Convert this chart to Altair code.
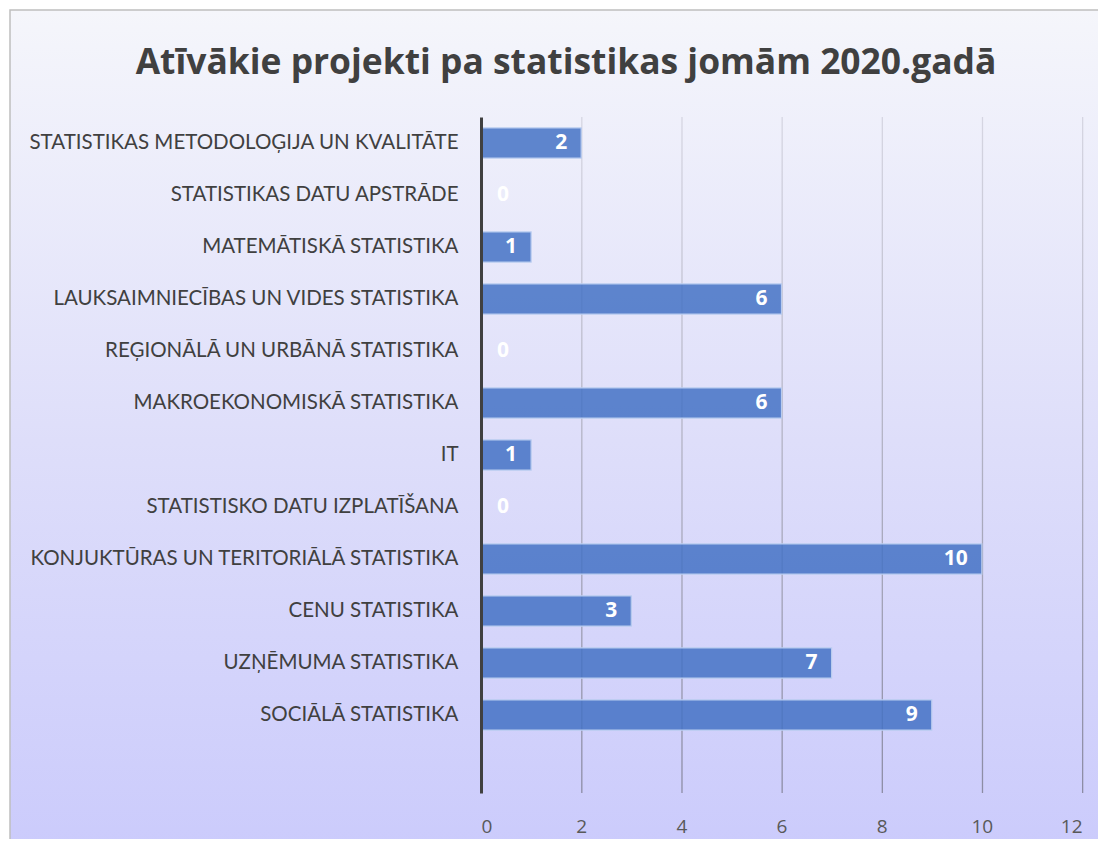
import altair as alt
import pandas as pd

categories = [
    "STATISTIKAS METODOLOĢIJA UN KVALITĀTE",
    "STATISTIKAS DATU APSTRĀDE",
    "MATEMĀTISKĀ STATISTIKA",
    "LAUKSAIMNIECĪBAS UN VIDES STATISTIKA",
    "REĢIONĀLĀ UN URBĀNĀ STATISTIKA",
    "MAKROEKONOMISKĀ STATISTIKA",
    "IT",
    "STATISTISKO DATU IZPLATĪŠANA",
    "KONJUKTŪRAS UN TERITORIĀLĀ STATISTIKA",
    "CENU STATISTIKA",
    "UZŅĒMUMA STATISTIKA",
    "SOCIĀLĀ STATISTIKA",
]
values = [2, 0, 1, 6, 0, 6, 1, 0, 10, 3, 7, 9]
x_ticks = [0, 2, 4, 6, 8, 10, 12]
title_text = "Atīvākie projekti pa statistikas jomām 2020.gadā"

df = pd.DataFrame({"cat": categories, "val": values})
grid_df = pd.DataFrame({"g": x_ticks[1:]})

W, H = 601, 676
FONT = "Open Sans"
LFONT = "Lato"
domain = categories + [" "]

ysc = alt.Scale(domain=domain, paddingInner=0.42, paddingOuter=0.21)
xsc = alt.Scale(domain=[0, 12], nice=False, zero=True)

bg = alt.Chart(pd.DataFrame({"a": [0]})).mark_rect(
    fill=alt.LinearGradient(
        gradient="linear", x1=0, y1=0, x2=0, y2=1,
        stops=[
            alt.GradientStop(offset=0, color="#F5F6FB"),
            alt.GradientStop(offset=0.5, color="#DEDEFA"),
            alt.GradientStop(offset=1, color="#CACAFC"),
        ],
    ),
    stroke="#BFBFBF", strokeWidth=1.5,
).encode(
    x=alt.value(-471), x2=alt.value(W + 60),
    y=alt.value(-107), y2=alt.value(H + 80),
)

title = alt.Chart(pd.DataFrame({"t": [title_text]})).mark_text(
    font=FONT, fontSize=35.4, fontWeight="bold", color="#404040",
    align="center", baseline="middle",
).encode(x=alt.value(85), y=alt.value(-54), text="t:N")

grid = alt.Chart(grid_df).mark_rect(
    x2Offset=1.3,
    fill=alt.LinearGradient(
        gradient="linear", x1=0, y1=0, x2=0, y2=1,
        stops=[
            alt.GradientStop(offset=0, color="#D6D6E2"),
            alt.GradientStop(offset=1, color="#8C8CA4"),
        ],
    ),
).encode(
    x=alt.X("g:Q", scale=xsc),
    x2="g:Q",
    y=alt.value(0), y2=alt.value(H),
)

bars = alt.Chart(df).mark_bar(
    color="#4472C4", fillOpacity=0.85, stroke="#B8CBEF", strokeWidth=1.2,
).encode(
    y=alt.Y("cat:N", scale=ysc, sort=domain,
            axis=alt.Axis(title=None, labelFont=LFONT, labelFontSize=20.5,
                          labelColor="#404040", labelPadding=23, ticks=False,
                          domainColor="#404040", domainWidth=3, grid=False,
                          labelLimit=600, labelExpr="datum.value", zindex=1)),
    x=alt.X("val:Q", scale=xsc,
            axis=alt.Axis(title=None, values=x_ticks, labelFont=FONT,
                          labelFontSize=19, labelColor="#595959", ticks=False,
                          domain=False, grid=False, labelPadding=24, zindex=1)),
)

labels_pos = alt.Chart(df).transform_filter("datum.val > 0").mark_text(
    align="right", baseline="middle", dx=-14, font=FONT, fontSize=21,
    fontWeight="bold", color="white",
).encode(
    y=alt.Y("cat:N", scale=ysc, sort=domain),
    x=alt.X("val:Q", scale=xsc),
    text="val:Q",
)

labels_zero = alt.Chart(df).transform_filter("datum.val == 0").mark_text(
    align="left", baseline="middle", dx=16, font=FONT, fontSize=21,
    fontWeight="bold", color="white",
).encode(
    y=alt.Y("cat:N", scale=ysc, sort=domain),
    x=alt.X("val:Q", scale=xsc),
    text="val:Q",
)

chart = alt.layer(bg, title, grid, bars, labels_pos, labels_zero).properties(
    width=W, height=H,
    autosize=alt.AutoSizeParams(type="none"),
    padding={"left": 473, "top": 109, "right": 16, "bottom": 46},
).configure_view(stroke=None).configure(background="white")

chart.save("out.html", embed_options={"renderer": "svg", "actions": False})
